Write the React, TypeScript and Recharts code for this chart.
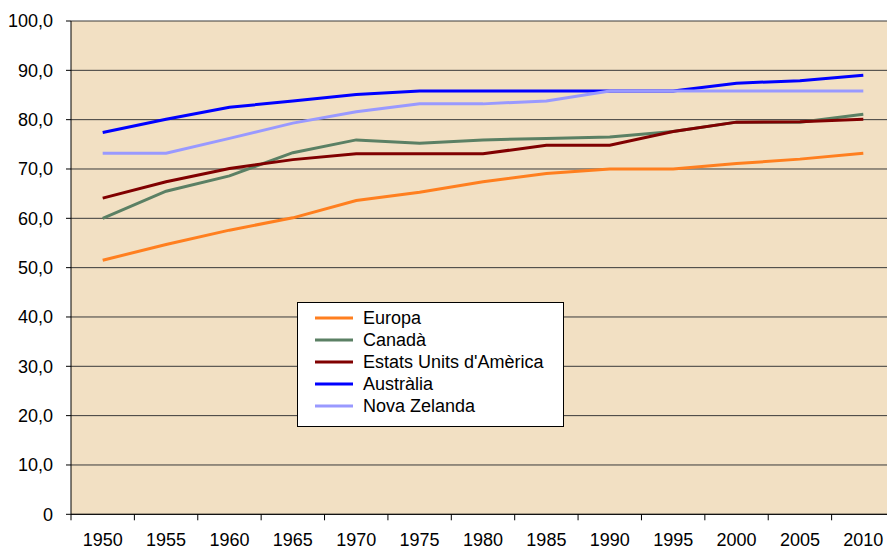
import { LineChart, Line, XAxis, YAxis, CartesianGrid, Legend } from "recharts";

const YEARS = ["1950", "1955", "1960", "1965", "1970", "1975", "1980", "1985", "1990", "1995", "2000", "2005", "2010"];
const EUROPA = [51.5, 54.7, 57.6, 60.1, 63.6, 65.3, 67.4, 69.1, 70.0, 70.0, 71.1, 72.0, 73.2];
const CANADA = [60.0, 65.5, 68.6, 73.3, 75.9, 75.2, 75.9, 76.2, 76.5, 77.6, 79.5, 79.5, 81.1];
const EUA = [64.1, 67.4, 70.1, 71.9, 73.1, 73.1, 73.1, 74.8, 74.8, 77.6, 79.5, 79.6, 80.1];
const AUSTRALIA = [77.4, 80.1, 82.5, 83.8, 85.1, 85.8, 85.8, 85.8, 85.8, 85.8, 87.4, 87.9, 89.0];
const NOVA_ZELANDA = [73.2, 73.2, 76.2, 79.3, 81.6, 83.2, 83.2, 83.8, 85.8, 85.8, 85.8, 85.8, 85.8];
const Y_TICKS = [0, 10, 20, 30, 40, 50, 60, 70, 80, 90, 100];

const SERIES = [
  { key: "europa", name: "Europa", color: "#FF7F1F" },
  { key: "canada", name: "Canadà", color: "#5B8064" },
  { key: "eua", name: "Estats Units d'Amèrica", color: "#800000" },
  { key: "australia", name: "Austràlia", color: "#0000FF" },
  { key: "nz", name: "Nova Zelanda", color: "#9999FF" },
];

const data = YEARS.map((year, i) => ({
  year,
  europa: EUROPA[i],
  canada: CANADA[i],
  eua: EUA[i],
  australia: AUSTRALIA[i],
  nz: NOVA_ZELANDA[i],
}));

// chart is wider than the window, the right edge gets cropped like the original
const CHART_W = 895;
const CHART_H = 550;
const Y_AXIS_W = 71;
const BAND = (CHART_W - Y_AXIS_W) / YEARS.length;
const FONT = "'Liberation Sans', Arial, sans-serif";

const formatY = (v: number) => (v === 0 ? "0" : v.toFixed(1).replace(".", ","));

// year label centred in its band, tick marks on the band edges
const YearTick = (props: any) => {
  const { x, y, payload, index } = props;
  return (
    <g>
      <line x1={x - BAND / 2} y1={y} x2={x - BAND / 2} y2={y + 6} stroke="#000" />
      {index === YEARS.length - 1 && (
        <line x1={x + BAND / 2} y1={y} x2={x + BAND / 2} y2={y + 6} stroke="#000" />
      )}
      <text x={x} y={y + 32} textAnchor="middle" fontSize={18} fill="#000">
        {payload.value}
      </text>
    </g>
  );
};

const seriesIndex = (name: string) => SERIES.findIndex((s) => s.name === name);

// keep the series order (recharts sorts legend items by name otherwise)
const LegendBox = ({ payload }: any) => {
  const items = [...(payload || [])].sort((a: any, b: any) => seriesIndex(a.value) - seriesIndex(b.value));
  return (
    <div
      style={{
        background: "#fff",
        border: "1.5px solid #000",
        width: 265,
        padding: "4px 0 9px 0",
        fontFamily: FONT,
        fontSize: 18,
        color: "#000",
        boxSizing: "content-box",
      }}
    >
      {items.map((item: any) => (
        <div key={item.value} style={{ display: "flex", alignItems: "center", height: 22 }}>
          <svg width={38} height={4} style={{ marginLeft: 17, marginRight: 10 }}>
            <line x1={0} y1={2} x2={38} y2={2} stroke={item.color} strokeWidth={3} />
          </svg>
          <span style={{ lineHeight: "22px", whiteSpace: "nowrap" }}>{item.value}</span>
        </div>
      ))}
    </div>
  );
};

export default function App() {
  return (
    <div
      style={{
        position: "fixed",
        left: 0,
        top: 0,
        width: 887,
        height: 550,
        overflow: "hidden",
        background: "#fff",
        fontFamily: FONT,
      }}
    >
      <LineChart width={CHART_W} height={CHART_H} data={data} margin={{ top: 21, right: 0, bottom: 0, left: 0 }}>
        <CartesianGrid
          horizontal
          vertical={false}
          stroke="#3a3a3a"
          fill="#F2E0C3"
          fillOpacity={1}
        />
        <XAxis
          dataKey="year"
          height={35.7}
          interval={0}
          padding={{ left: BAND / 2, right: BAND / 2 }}
          axisLine={{ stroke: "#000" }}
          tickLine={false}
          tickSize={0}
          tickMargin={0}
          tick={<YearTick />}
        />
        <YAxis
          width={Y_AXIS_W}
          domain={[0, 100]}
          ticks={Y_TICKS}
          interval={0}
          tickFormatter={formatY}
          axisLine={{ stroke: "#000" }}
          tickLine={{ stroke: "#000" }}
          tickSize={5}
          tickMargin={13}
          tick={{ fontSize: 18, fill: "#000" }}
        />
        {SERIES.map((s) => (
          <Line
            key={s.key}
            type="linear"
            dataKey={s.key}
            name={s.name}
            stroke={s.color}
            strokeWidth={3}
            dot={false}
            activeDot={false}
            isAnimationActive={false}
          />
        ))}
        <Legend
          layout="vertical"
          align="center"
          verticalAlign="middle"
          content={<LegendBox />}
          wrapperStyle={{ left: 297, top: 302, width: "auto", height: "auto" }}
        />
      </LineChart>
    </div>
  );
}
